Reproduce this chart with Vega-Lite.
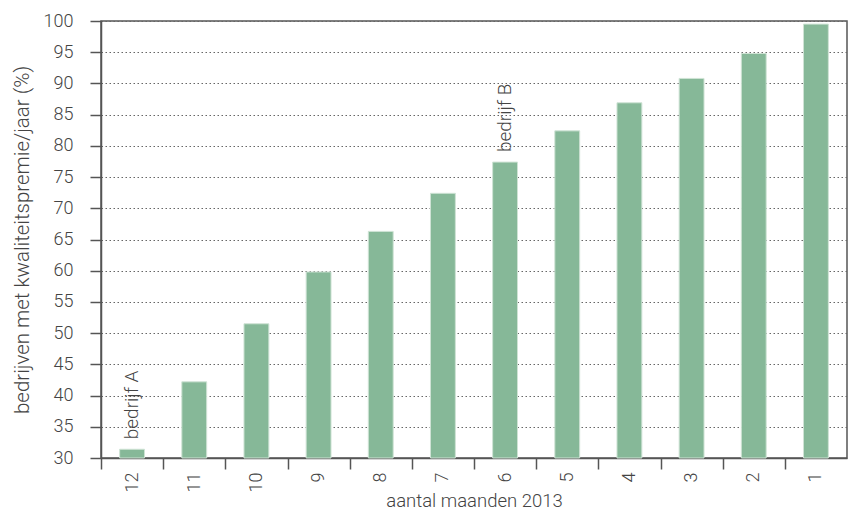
{
  "$schema": "https://vega.github.io/schema/vega-lite/v6.json",
  "width": 746,
  "height": 437,
  "autosize": "none",
  "padding": {"left": 101, "top": 21, "right": 1, "bottom": 55},
  "background": "white",
  "config": {
    "font": "Roboto",
    "view": {"stroke": "#555", "strokeWidth": 1.5},
    "axis": {
      "domainColor": "#555",
      "domainWidth": 1.5,
      "tickColor": "#555",
      "tickWidth": 1.5,
      "tickSize": 11,
      "labelColor": "#444",
      "labelFontSize": 18,
      "labelFontWeight": 300,
      "titleColor": "#444",
      "titleFontSize": 18.5,
      "titleFontWeight": 300
    }
  },
  "data": {
    "values": [
      {"maand": "12", "pct": 31.4, "label": "bedrijf A"},
      {"maand": "11", "pct": 42.2, "label": ""},
      {"maand": "10", "pct": 51.5, "label": ""},
      {"maand": "9", "pct": 59.8, "label": ""},
      {"maand": "8", "pct": 66.3, "label": ""},
      {"maand": "7", "pct": 72.4, "label": ""},
      {"maand": "6", "pct": 77.4, "label": "bedrijf B"},
      {"maand": "5", "pct": 82.4, "label": ""},
      {"maand": "4", "pct": 86.9, "label": ""},
      {"maand": "3", "pct": 90.8, "label": ""},
      {"maand": "2", "pct": 94.8, "label": ""},
      {"maand": "1", "pct": 99.5, "label": ""}
    ]
  },
  "encoding": {
    "x": {
      "field": "maand",
      "type": "ordinal",
      "sort": ["12", "11", "10", "9", "8", "7", "6", "5", "4", "3", "2", "1"],
      "scale": {"paddingInner": 0.6, "paddingOuter": 0.3},
      "axis": {
        "title": "aantal maanden 2013",
        "labelAngle": -90,
        "labelPadding": 3,
        "bandPosition": 0.5,
        "tickOffset": -31.08,
        "labelOffset": 31.08,
        "titlePadding": 0
      }
    },
    "y": {
      "field": "pct",
      "type": "quantitative",
      "scale": {"domain": [30, 100], "nice": false},
      "axis": {
        "title": "bedrijven met kwaliteitspremie/jaar (%)",
        "titleFontSize": 20.5,
        "values": [30, 35, 40, 45, 50, 55, 60, 65, 70, 75, 80, 85, 90, 95, 100],
        "labelPadding": 17,
        "titlePadding": 11,
        "grid": true,
        "gridColor": "#666",
        "gridDash": [1.5, 2.5],
        "gridWidth": 1
      }
    }
  },
  "layer": [
    {
      "mark": {"type": "bar", "color": "#86b898", "stroke": "#cfe3d5", "strokeWidth": 1},
      "encoding": {"y2": {"datum": 30}}
    },
    {
      "transform": [{"filter": "datum.label != ''"}],
      "mark": {
        "type": "text",
        "angle": 270,
        "align": "left",
        "baseline": "middle",
        "dx": 10,
        "fontSize": 19,
        "fontWeight": 300,
        "color": "#444"
      },
      "encoding": {"text": {"field": "label"}}
    }
  ]
}
